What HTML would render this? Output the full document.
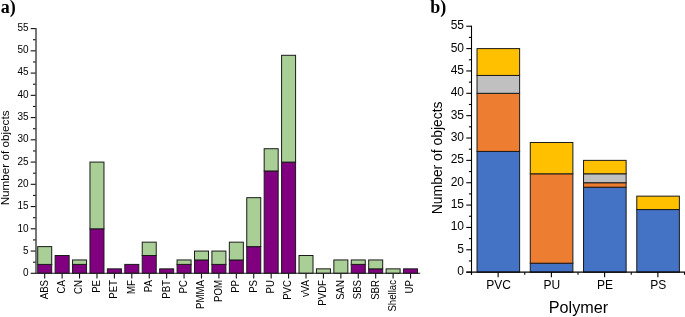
<!DOCTYPE html>
<html><head><meta charset="utf-8"><style>
html,body{margin:0;padding:0;background:#fff;}
body{width:685px;height:317px;overflow:hidden;}
svg{display:block;will-change:transform;font-family:"Liberation Sans",sans-serif;fill:#000;}
</style></head><body>
<svg width="685" height="317" viewBox="0 0 685 317">
<rect width="685" height="317" fill="#fff"/>
<rect x="37.71" y="264.4" width="14" height="8.9" fill="#800080" stroke="#1a1a1a" stroke-width="1"/>
<rect x="37.71" y="246.61" width="14" height="17.8" fill="#aacf96" stroke="#1a1a1a" stroke-width="1"/>
<line x1="44.71" y1="273.3" x2="44.71" y2="278.5" stroke="#111" stroke-width="1.1"/>
<text transform="translate(47.61,280) rotate(-90) scale(0.965,1)" font-size="10" text-anchor="end">ABS</text>
<rect x="55.13" y="255.5" width="14" height="17.8" fill="#800080" stroke="#1a1a1a" stroke-width="1"/>
<line x1="62.13" y1="273.3" x2="62.13" y2="278.5" stroke="#111" stroke-width="1.1"/>
<text transform="translate(65.03,280) rotate(-90) scale(0.965,1)" font-size="10" text-anchor="end">CA</text>
<rect x="72.55" y="264.4" width="14" height="8.9" fill="#800080" stroke="#1a1a1a" stroke-width="1"/>
<rect x="72.55" y="259.95" width="14" height="4.45" fill="#aacf96" stroke="#1a1a1a" stroke-width="1"/>
<line x1="79.55" y1="273.3" x2="79.55" y2="278.5" stroke="#111" stroke-width="1.1"/>
<text transform="translate(82.45,280) rotate(-90) scale(0.965,1)" font-size="10" text-anchor="end">CN</text>
<rect x="89.97" y="228.81" width="14" height="44.49" fill="#800080" stroke="#1a1a1a" stroke-width="1"/>
<rect x="89.97" y="162.08" width="14" height="66.73" fill="#aacf96" stroke="#1a1a1a" stroke-width="1"/>
<line x1="96.97" y1="273.3" x2="96.97" y2="278.5" stroke="#111" stroke-width="1.1"/>
<text transform="translate(99.87,280) rotate(-90) scale(0.965,1)" font-size="10" text-anchor="end">PE</text>
<rect x="107.39" y="268.85" width="14" height="4.45" fill="#800080" stroke="#1a1a1a" stroke-width="1"/>
<line x1="114.39" y1="273.3" x2="114.39" y2="278.5" stroke="#111" stroke-width="1.1"/>
<text transform="translate(117.29,280) rotate(-90) scale(0.965,1)" font-size="10" text-anchor="end">PET</text>
<rect x="124.81" y="264.4" width="14" height="8.9" fill="#800080" stroke="#1a1a1a" stroke-width="1"/>
<line x1="131.81" y1="273.3" x2="131.81" y2="278.5" stroke="#111" stroke-width="1.1"/>
<text transform="translate(134.71,280) rotate(-90) scale(0.965,1)" font-size="10" text-anchor="end">MF</text>
<rect x="142.23" y="255.5" width="14" height="17.8" fill="#800080" stroke="#1a1a1a" stroke-width="1"/>
<rect x="142.23" y="242.16" width="14" height="13.35" fill="#aacf96" stroke="#1a1a1a" stroke-width="1"/>
<line x1="149.23" y1="273.3" x2="149.23" y2="278.5" stroke="#111" stroke-width="1.1"/>
<text transform="translate(152.13,280) rotate(-90) scale(0.965,1)" font-size="10" text-anchor="end">PA</text>
<rect x="159.65" y="268.85" width="14" height="4.45" fill="#800080" stroke="#1a1a1a" stroke-width="1"/>
<line x1="166.65" y1="273.3" x2="166.65" y2="278.5" stroke="#111" stroke-width="1.1"/>
<text transform="translate(169.55,280) rotate(-90) scale(0.965,1)" font-size="10" text-anchor="end">PBT</text>
<rect x="177.07" y="264.4" width="14" height="8.9" fill="#800080" stroke="#1a1a1a" stroke-width="1"/>
<rect x="177.07" y="259.95" width="14" height="4.45" fill="#aacf96" stroke="#1a1a1a" stroke-width="1"/>
<line x1="184.07" y1="273.3" x2="184.07" y2="278.5" stroke="#111" stroke-width="1.1"/>
<text transform="translate(186.97,280) rotate(-90) scale(0.965,1)" font-size="10" text-anchor="end">PC</text>
<rect x="194.49" y="259.95" width="14" height="13.35" fill="#800080" stroke="#1a1a1a" stroke-width="1"/>
<rect x="194.49" y="251.06" width="14" height="8.9" fill="#aacf96" stroke="#1a1a1a" stroke-width="1"/>
<line x1="201.49" y1="273.3" x2="201.49" y2="278.5" stroke="#111" stroke-width="1.1"/>
<text transform="translate(204.39,280) rotate(-90) scale(0.965,1)" font-size="10" text-anchor="end">PMMA</text>
<rect x="211.91" y="264.4" width="14" height="8.9" fill="#800080" stroke="#1a1a1a" stroke-width="1"/>
<rect x="211.91" y="251.06" width="14" height="13.35" fill="#aacf96" stroke="#1a1a1a" stroke-width="1"/>
<line x1="218.91" y1="273.3" x2="218.91" y2="278.5" stroke="#111" stroke-width="1.1"/>
<text transform="translate(221.81,280) rotate(-90) scale(0.965,1)" font-size="10" text-anchor="end">POM</text>
<rect x="229.33" y="259.95" width="14" height="13.35" fill="#800080" stroke="#1a1a1a" stroke-width="1"/>
<rect x="229.33" y="242.16" width="14" height="17.8" fill="#aacf96" stroke="#1a1a1a" stroke-width="1"/>
<line x1="236.33" y1="273.3" x2="236.33" y2="278.5" stroke="#111" stroke-width="1.1"/>
<text transform="translate(239.23,280) rotate(-90) scale(0.965,1)" font-size="10" text-anchor="end">PP</text>
<rect x="246.75" y="246.61" width="14" height="26.69" fill="#800080" stroke="#1a1a1a" stroke-width="1"/>
<rect x="246.75" y="197.67" width="14" height="48.94" fill="#aacf96" stroke="#1a1a1a" stroke-width="1"/>
<line x1="253.75" y1="273.3" x2="253.75" y2="278.5" stroke="#111" stroke-width="1.1"/>
<text transform="translate(256.65,280) rotate(-90) scale(0.965,1)" font-size="10" text-anchor="end">PS</text>
<rect x="264.17" y="170.97" width="14" height="102.33" fill="#800080" stroke="#1a1a1a" stroke-width="1"/>
<rect x="264.17" y="148.73" width="14" height="22.24" fill="#aacf96" stroke="#1a1a1a" stroke-width="1"/>
<line x1="271.17" y1="273.3" x2="271.17" y2="278.5" stroke="#111" stroke-width="1.1"/>
<text transform="translate(274.07,280) rotate(-90) scale(0.965,1)" font-size="10" text-anchor="end">PU</text>
<rect x="281.59" y="162.08" width="14" height="111.22" fill="#800080" stroke="#1a1a1a" stroke-width="1"/>
<rect x="281.59" y="55.3" width="14" height="106.78" fill="#aacf96" stroke="#1a1a1a" stroke-width="1"/>
<line x1="288.59" y1="273.3" x2="288.59" y2="278.5" stroke="#111" stroke-width="1.1"/>
<text transform="translate(291.49,280) rotate(-90) scale(0.965,1)" font-size="10" text-anchor="end">PVC</text>
<rect x="299.01" y="255.5" width="14" height="17.8" fill="#aacf96" stroke="#1a1a1a" stroke-width="1"/>
<line x1="306.01" y1="273.3" x2="306.01" y2="278.5" stroke="#111" stroke-width="1.1"/>
<text transform="translate(308.91,280) rotate(-90) scale(0.965,1)" font-size="10" text-anchor="end">vVA</text>
<rect x="316.43" y="268.85" width="14" height="4.45" fill="#aacf96" stroke="#1a1a1a" stroke-width="1"/>
<line x1="323.43" y1="273.3" x2="323.43" y2="278.5" stroke="#111" stroke-width="1.1"/>
<text transform="translate(326.33,280) rotate(-90) scale(0.965,1)" font-size="10" text-anchor="end">PVDF</text>
<rect x="333.85" y="259.95" width="14" height="13.35" fill="#aacf96" stroke="#1a1a1a" stroke-width="1"/>
<line x1="340.85" y1="273.3" x2="340.85" y2="278.5" stroke="#111" stroke-width="1.1"/>
<text transform="translate(343.75,280) rotate(-90) scale(0.965,1)" font-size="10" text-anchor="end">SAN</text>
<rect x="351.27" y="264.4" width="14" height="8.9" fill="#800080" stroke="#1a1a1a" stroke-width="1"/>
<rect x="351.27" y="259.95" width="14" height="4.45" fill="#aacf96" stroke="#1a1a1a" stroke-width="1"/>
<line x1="358.27" y1="273.3" x2="358.27" y2="278.5" stroke="#111" stroke-width="1.1"/>
<text transform="translate(361.17,280) rotate(-90) scale(0.965,1)" font-size="10" text-anchor="end">SBS</text>
<rect x="368.69" y="268.85" width="14" height="4.45" fill="#800080" stroke="#1a1a1a" stroke-width="1"/>
<rect x="368.69" y="259.95" width="14" height="8.9" fill="#aacf96" stroke="#1a1a1a" stroke-width="1"/>
<line x1="375.69" y1="273.3" x2="375.69" y2="278.5" stroke="#111" stroke-width="1.1"/>
<text transform="translate(378.59,280) rotate(-90) scale(0.965,1)" font-size="10" text-anchor="end">SBR</text>
<rect x="386.11" y="268.85" width="14" height="4.45" fill="#aacf96" stroke="#1a1a1a" stroke-width="1"/>
<line x1="393.11" y1="273.3" x2="393.11" y2="278.5" stroke="#111" stroke-width="1.1"/>
<text transform="translate(396.01,280) rotate(-90) scale(0.965,1)" font-size="10" text-anchor="end">Shellac</text>
<rect x="403.53" y="268.85" width="14" height="4.45" fill="#800080" stroke="#1a1a1a" stroke-width="1"/>
<line x1="410.53" y1="273.3" x2="410.53" y2="278.5" stroke="#111" stroke-width="1.1"/>
<text transform="translate(413.43,280) rotate(-90) scale(0.965,1)" font-size="10" text-anchor="end">UP</text>
<line x1="30.7" y1="273.3" x2="36" y2="273.3" stroke="#111" stroke-width="1.1"/>
<text x="28.5" y="276.3" font-size="10" text-anchor="end" >0</text>
<line x1="30.7" y1="251.06" x2="36" y2="251.06" stroke="#111" stroke-width="1.1"/>
<text x="28.5" y="253.97" font-size="10" text-anchor="end" >5</text>
<line x1="30.7" y1="228.81" x2="36" y2="228.81" stroke="#111" stroke-width="1.1"/>
<text x="28.5" y="231.65" font-size="10" text-anchor="end" >10</text>
<line x1="30.7" y1="206.56" x2="36" y2="206.56" stroke="#111" stroke-width="1.1"/>
<text x="28.5" y="209.32" font-size="10" text-anchor="end" >15</text>
<line x1="30.7" y1="184.32" x2="36" y2="184.32" stroke="#111" stroke-width="1.1"/>
<text x="28.5" y="186.99" font-size="10" text-anchor="end" >20</text>
<line x1="30.7" y1="162.08" x2="36" y2="162.08" stroke="#111" stroke-width="1.1"/>
<text x="28.5" y="164.67" font-size="10" text-anchor="end" >25</text>
<line x1="30.7" y1="139.83" x2="36" y2="139.83" stroke="#111" stroke-width="1.1"/>
<text x="28.5" y="142.34" font-size="10" text-anchor="end" >30</text>
<line x1="30.7" y1="117.59" x2="36" y2="117.59" stroke="#111" stroke-width="1.1"/>
<text x="28.5" y="120.01" font-size="10" text-anchor="end" >35</text>
<line x1="30.7" y1="95.34" x2="36" y2="95.34" stroke="#111" stroke-width="1.1"/>
<text x="28.5" y="97.69" font-size="10" text-anchor="end" >40</text>
<line x1="30.7" y1="73.1" x2="36" y2="73.1" stroke="#111" stroke-width="1.1"/>
<text x="28.5" y="75.36" font-size="10" text-anchor="end" >45</text>
<line x1="30.7" y1="50.85" x2="36" y2="50.85" stroke="#111" stroke-width="1.1"/>
<text x="28.5" y="53.03" font-size="10" text-anchor="end" >50</text>
<line x1="30.7" y1="28.61" x2="36" y2="28.61" stroke="#111" stroke-width="1.1"/>
<text x="28.5" y="30.71" font-size="10" text-anchor="end" >55</text>
<line x1="33" y1="262.18" x2="36" y2="262.18" stroke="#111" stroke-width="1.1"/>
<line x1="33" y1="239.93" x2="36" y2="239.93" stroke="#111" stroke-width="1.1"/>
<line x1="33" y1="217.69" x2="36" y2="217.69" stroke="#111" stroke-width="1.1"/>
<line x1="33" y1="195.44" x2="36" y2="195.44" stroke="#111" stroke-width="1.1"/>
<line x1="33" y1="173.2" x2="36" y2="173.2" stroke="#111" stroke-width="1.1"/>
<line x1="33" y1="150.95" x2="36" y2="150.95" stroke="#111" stroke-width="1.1"/>
<line x1="33" y1="128.71" x2="36" y2="128.71" stroke="#111" stroke-width="1.1"/>
<line x1="33" y1="106.46" x2="36" y2="106.46" stroke="#111" stroke-width="1.1"/>
<line x1="33" y1="84.22" x2="36" y2="84.22" stroke="#111" stroke-width="1.1"/>
<line x1="33" y1="61.97" x2="36" y2="61.97" stroke="#111" stroke-width="1.1"/>
<line x1="33" y1="39.73" x2="36" y2="39.73" stroke="#111" stroke-width="1.1"/>
<line x1="36" y1="28.11" x2="36" y2="273.8" stroke="#4a4a4a" stroke-width="1.5"/>
<line x1="35.25" y1="273.3" x2="420.2" y2="273.3" stroke="#222" stroke-width="1.1"/>
<text transform="translate(9.4,157.9) rotate(-90)" font-size="11.7" text-anchor="middle">Number of objects</text>
<rect x="477.02" y="151.43" width="42.6" height="120.72" fill="#4472c4" stroke="#1a1a1a" stroke-width="1"/>
<rect x="477.02" y="93.31" width="42.6" height="58.12" fill="#ed7d31" stroke="#1a1a1a" stroke-width="1"/>
<rect x="477.02" y="75.43" width="42.6" height="17.88" fill="#c0c0c0" stroke="#1a1a1a" stroke-width="1"/>
<rect x="477.02" y="48.6" width="42.6" height="26.83" fill="#ffc000" stroke="#1a1a1a" stroke-width="1"/>
<line x1="498.12" y1="272.15" x2="498.12" y2="277.15" stroke="#000" stroke-width="1.1"/>
<line x1="471.5" y1="272.15" x2="471.5" y2="274.75" stroke="#000" stroke-width="1.1"/>
<text x="498.62" y="289.2" font-size="12" text-anchor="middle" >PVC</text>
<rect x="530.28" y="263.21" width="42.6" height="8.94" fill="#4472c4" stroke="#1a1a1a" stroke-width="1"/>
<rect x="530.28" y="173.79" width="42.6" height="89.42" fill="#ed7d31" stroke="#1a1a1a" stroke-width="1"/>
<rect x="530.28" y="142.49" width="42.6" height="31.3" fill="#ffc000" stroke="#1a1a1a" stroke-width="1"/>
<line x1="551.38" y1="272.15" x2="551.38" y2="277.15" stroke="#000" stroke-width="1.1"/>
<line x1="524.75" y1="272.15" x2="524.75" y2="274.75" stroke="#000" stroke-width="1.1"/>
<text x="551.88" y="289.2" font-size="12" text-anchor="middle" >PU</text>
<rect x="583.53" y="187.2" width="42.6" height="84.95" fill="#4472c4" stroke="#1a1a1a" stroke-width="1"/>
<rect x="583.53" y="182.73" width="42.6" height="4.47" fill="#ed7d31" stroke="#1a1a1a" stroke-width="1"/>
<rect x="583.53" y="173.79" width="42.6" height="8.94" fill="#c0c0c0" stroke="#1a1a1a" stroke-width="1"/>
<rect x="583.53" y="160.37" width="42.6" height="13.41" fill="#ffc000" stroke="#1a1a1a" stroke-width="1"/>
<line x1="604.62" y1="272.15" x2="604.62" y2="277.15" stroke="#000" stroke-width="1.1"/>
<line x1="578" y1="272.15" x2="578" y2="274.75" stroke="#000" stroke-width="1.1"/>
<text x="605.12" y="289.2" font-size="12" text-anchor="middle" >PE</text>
<rect x="636.78" y="209.56" width="42.6" height="62.59" fill="#4472c4" stroke="#1a1a1a" stroke-width="1"/>
<rect x="636.78" y="196.14" width="42.6" height="13.41" fill="#ffc000" stroke="#1a1a1a" stroke-width="1"/>
<line x1="657.88" y1="272.15" x2="657.88" y2="277.15" stroke="#000" stroke-width="1.1"/>
<line x1="631.25" y1="272.15" x2="631.25" y2="274.75" stroke="#000" stroke-width="1.1"/>
<text x="658.38" y="289.2" font-size="12" text-anchor="middle" >PS</text>
<line x1="466.3" y1="272.15" x2="471.5" y2="272.15" stroke="#000" stroke-width="1.1"/>
<text x="464" y="275.15" font-size="12" text-anchor="end" >0</text>
<line x1="466.3" y1="249.79" x2="471.5" y2="249.79" stroke="#000" stroke-width="1.1"/>
<text x="464" y="252.79" font-size="12" text-anchor="end" >5</text>
<line x1="466.3" y1="227.44" x2="471.5" y2="227.44" stroke="#000" stroke-width="1.1"/>
<text x="464" y="230.44" font-size="12" text-anchor="end" >10</text>
<line x1="466.3" y1="205.08" x2="471.5" y2="205.08" stroke="#000" stroke-width="1.1"/>
<text x="464" y="208.08" font-size="12" text-anchor="end" >15</text>
<line x1="466.3" y1="182.73" x2="471.5" y2="182.73" stroke="#000" stroke-width="1.1"/>
<text x="464" y="185.73" font-size="12" text-anchor="end" >20</text>
<line x1="466.3" y1="160.37" x2="471.5" y2="160.37" stroke="#000" stroke-width="1.1"/>
<text x="464" y="163.37" font-size="12" text-anchor="end" >25</text>
<line x1="466.3" y1="138.02" x2="471.5" y2="138.02" stroke="#000" stroke-width="1.1"/>
<text x="464" y="141.02" font-size="12" text-anchor="end" >30</text>
<line x1="466.3" y1="115.66" x2="471.5" y2="115.66" stroke="#000" stroke-width="1.1"/>
<text x="464" y="118.66" font-size="12" text-anchor="end" >35</text>
<line x1="466.3" y1="93.31" x2="471.5" y2="93.31" stroke="#000" stroke-width="1.1"/>
<text x="464" y="96.31" font-size="12" text-anchor="end" >40</text>
<line x1="466.3" y1="70.95" x2="471.5" y2="70.95" stroke="#000" stroke-width="1.1"/>
<text x="464" y="73.95" font-size="12" text-anchor="end" >45</text>
<line x1="466.3" y1="48.6" x2="471.5" y2="48.6" stroke="#000" stroke-width="1.1"/>
<text x="464" y="51.6" font-size="12" text-anchor="end" >50</text>
<line x1="466.3" y1="26.24" x2="471.5" y2="26.24" stroke="#000" stroke-width="1.1"/>
<text x="464" y="29.24" font-size="12" text-anchor="end" >55</text>
<line x1="468.9" y1="260.97" x2="471.5" y2="260.97" stroke="#000" stroke-width="1.1"/>
<line x1="468.9" y1="238.62" x2="471.5" y2="238.62" stroke="#000" stroke-width="1.1"/>
<line x1="468.9" y1="216.26" x2="471.5" y2="216.26" stroke="#000" stroke-width="1.1"/>
<line x1="468.9" y1="193.91" x2="471.5" y2="193.91" stroke="#000" stroke-width="1.1"/>
<line x1="468.9" y1="171.55" x2="471.5" y2="171.55" stroke="#000" stroke-width="1.1"/>
<line x1="468.9" y1="149.2" x2="471.5" y2="149.2" stroke="#000" stroke-width="1.1"/>
<line x1="468.9" y1="126.84" x2="471.5" y2="126.84" stroke="#000" stroke-width="1.1"/>
<line x1="468.9" y1="104.49" x2="471.5" y2="104.49" stroke="#000" stroke-width="1.1"/>
<line x1="468.9" y1="82.13" x2="471.5" y2="82.13" stroke="#000" stroke-width="1.1"/>
<line x1="468.9" y1="59.78" x2="471.5" y2="59.78" stroke="#000" stroke-width="1.1"/>
<line x1="468.9" y1="37.42" x2="471.5" y2="37.42" stroke="#000" stroke-width="1.1"/>
<line x1="471.5" y1="25.69" x2="471.5" y2="274.75" stroke="#000" stroke-width="1.1"/>
<line x1="466.3" y1="272.15" x2="685" y2="272.15" stroke="#000" stroke-width="1.1"/>
<line x1="684.5" y1="272.15" x2="684.5" y2="274.75" stroke="#000" stroke-width="1.1"/>
<text transform="translate(441.6,157.8) rotate(-90)" font-size="13.9" text-anchor="middle">Number of objects</text>
<text x="578.5" y="312.6" font-size="16.2" text-anchor="middle" >Polymer</text>
<text x="0.8" y="12.5" font-size="18" font-weight="bold" font-family="Liberation Serif, serif">a)</text>
<text x="430.3" y="12.6" font-size="18" font-weight="bold" font-family="Liberation Serif, serif">b)</text>
</svg>
</body></html>
